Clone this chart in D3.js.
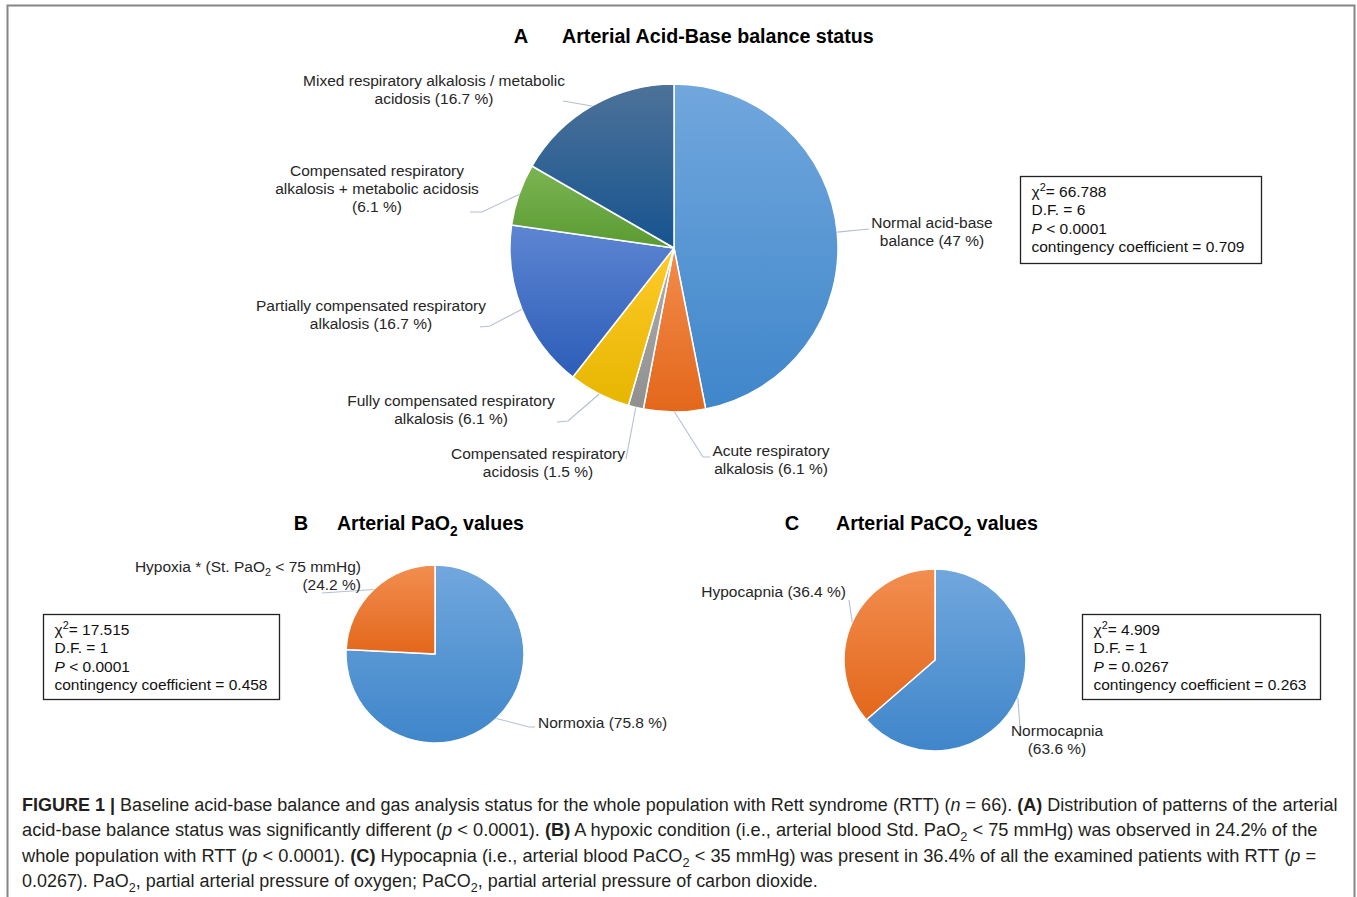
<!DOCTYPE html>
<html>
<head>
<meta charset="utf-8">
<script src="https://cdn.jsdelivr.net/npm/d3@7"></script>
<style>
  body { margin: 0; background: #fff; }
  svg text { white-space: pre; }
</style>
</head>
<body>
<svg id="fig" width="1357" height="897"></svg>
<script>
// ---- data ----
const acidBaseCategories = [
  "Normal acid-base balance",
  "Acute respiratory alkalosis",
  "Compensated respiratory acidosis",
  "Fully compensated respiratory alkalosis",
  "Partially compensated respiratory alkalosis",
  "Compensated respiratory alkalosis + metabolic acidosis",
  "Mixed respiratory alkalosis / metabolic acidosis"
];
const acidBaseValues = [47, 6.1, 1.5, 6.1, 16.7, 6.1, 16.7];

const pao2Categories = ["Normoxia", "Hypoxia * (St. PaO_{2} < 75 mmHg)"];
const pao2Values = [75.8, 24.2];

const paco2Categories = ["Normocapnia", "Hypocapnia"];
const paco2Values = [63.6, 36.4];

// chi-square, degrees of freedom, P, contingency coefficient
const statsA = ["66.788", "6", "< 0.0001", "0.709"];
const statsB = ["17.515", "1", "< 0.0001", "0.458"];
const statsC = ["4.909", "1", "= 0.0267", "0.263"];

const captionLines = [
  "**FIGURE 1 |** Baseline acid-base balance and gas analysis status for the whole population with Rett syndrome (RTT) (~n~ = 66). **(A)** Distribution of patterns of the arterial",
  "acid-base balance status was significantly different (~p~ < 0.0001). **(B)** A hypoxic condition (i.e., arterial blood Std. PaO_{2} < 75 mmHg) was observed in 24.2% of the",
  "whole population with RTT (~p~ < 0.0001). **(C)** Hypocapnia (i.e., arterial blood PaCO_{2} < 35 mmHg) was present in 36.4% of all the examined patients with RTT (~p~ =",
  "0.0267). PaO_{2}, partial arterial pressure of oxygen; PaCO_{2}, partial arterial pressure of carbon dioxide."
];

// ---- styles ----
const FONT = "'Liberation Sans', Arial, sans-serif";
const NARROW = "'Liberation Sans Narrow', 'Liberation Sans', Arial, sans-serif";
const LABEL_COLOR = "#262626";
const LEADER_COLOR = "#b4c0d0";
const LABEL_SIZE = 15.5;

// top / bottom gradient stops per slice
const acidBasePalette = [
  ["#71a7dd", "#3f86ca"],
  ["#f28c4c", "#e3671b"],
  ["#b0b0b0", "#8f8f8f"],
  ["#ffca2a", "#e6b600"],
  ["#5d85d2", "#2d5db8"],
  ["#7bb552", "#5b9a33"],
  ["#4d7299", "#16548f"]
];
const twoPalette = [
  ["#71a7dd", "#3f86ca"],
  ["#f28e50", "#e3671b"]
];

const svg = d3.select("#fig");
const defs = svg.append("defs");

// frame
svg.append("path")
  .attr("d", "M7.5,897 V5.5 H1354.5 V897")
  .attr("fill", "none")
  .attr("stroke", "#858585")
  .attr("stroke-width", 2);

// text with inline markup: _{sub} ^{sup} ~italic~ **bold**
function rich(sel, str, fs) {
  const parts = str.split(/(_\{[^}]*\}|\^\{[^}]*\}|~[^~]*~|\*\*[^*]*\*\*)/).filter(s => s.length);
  let shift = 0;
  parts.forEach(p => {
    const t = sel.append("tspan");
    let target = 0;
    if (p.startsWith("_{")) {
      t.text(p.slice(2, -1)).attr("font-size", fs * 0.7);
      target = fs * 0.28;
    } else if (p.startsWith("^{")) {
      t.text(p.slice(2, -1)).attr("font-size", fs * 0.7);
      target = -fs * 0.38;
    } else if (p.startsWith("~")) {
      t.text(p.slice(1, -1)).attr("font-style", "italic");
    } else if (p.startsWith("**")) {
      t.text(p.slice(2, -2)).attr("font-weight", "bold");
    } else {
      t.text(p);
    }
    const dy = target - shift;
    if (dy) t.attr("dy", dy);
    shift = target;
  });
}

// stretch / squeeze a text so that it spans [x0, x1]
function fitText(sel, x0, x1, y) {
  const w = sel.node().getComputedTextLength();
  const k = (x1 - x0) / w;
  sel.attr("x", 0).attr("y", 0)
     .attr("transform", `translate(${x0},${y}) scale(${k},1)`);
}

// ---- panel titles ----
function panelTitle(letter, letterX, title, x0, x1, y) {
  svg.append("text").attr("x", letterX).attr("y", y)
    .attr("font-family", FONT).attr("font-weight", "bold").attr("font-size", 20)
    .attr("text-anchor", "middle").attr("fill", "#000").text(letter);
  const t = svg.append("text")
    .attr("font-family", NARROW).attr("font-weight", "bold").attr("font-size", 21)
    .attr("fill", "#000");
  rich(t, title, 21);
  fitText(t, x0, x1, y);
}
panelTitle("A", 521, "Arterial Acid-Base balance status", 562, 874, 43);
panelTitle("B", 301, "Arterial PaO_{2} values", 337, 524, 530);
panelTitle("C", 792, "Arterial PaCO_{2} values", 836, 1038, 530);

// ---- pies ----
function drawPie(cfg) {
  const g = svg.append("g").attr("transform", `translate(${cfg.cx},${cfg.cy})`);
  const pie = d3.pie().sort(null).value(d => d.value);
  const arc = d3.arc().innerRadius(0).outerRadius(cfg.r);
  const data = cfg.values.map((v, i) => ({ value: v, name: cfg.categories[i], i }));
  const arcs = pie(data);

  arcs.forEach((a, i) => {
    const grad = defs.append("linearGradient")
      .attr("id", `${cfg.id}-g${i}`)
      .attr("x1", 0).attr("y1", 0).attr("x2", 0).attr("y2", 1);
    grad.append("stop").attr("offset", "0%").attr("stop-color", cfg.palette[i][0]);
    grad.append("stop").attr("offset", "100%").attr("stop-color", cfg.palette[i][1]);
  });

  g.selectAll("path.slice").data(arcs).join("path")
    .attr("class", "slice")
    .attr("d", arc)
    .attr("fill", (d, i) => `url(#${cfg.id}-g${i})`)
    .attr("stroke", "#fff")
    .attr("stroke-width", 1.5)
    .attr("stroke-linejoin", "round");

  // labels and leader lines
  arcs.forEach((a, i) => {
    const L = cfg.labels[i];
    const mid = (a.startAngle + a.endAngle) / 2;
    const ex = cfg.cx + cfg.r * Math.sin(mid);
    const ey = cfg.cy - cfg.r * Math.cos(mid);
    const pts = [[ex, ey]].concat(L.lead);
    svg.append("path")
      .attr("d", d3.line()(pts))
      .attr("fill", "none")
      .attr("stroke", LEADER_COLOR)
      .attr("stroke-width", 1.1);

    const words = `${a.data.name} (${a.data.value} %)`.split(" ");
    let k = 0;
    L.breaks.forEach((n, li) => {
      const line = words.slice(k, k + n).join(" ");
      k += n;
      const t = svg.append("text")
        .attr("x", L.x).attr("y", L.y + li * 18)
        .attr("font-family", FONT).attr("font-size", LABEL_SIZE)
        .attr("fill", LABEL_COLOR)
        .attr("text-anchor", L.anchor);
      rich(t, line, LABEL_SIZE);
    });
  });
}

drawPie({
  id: "acid", cx: 674, cy: 248, r: 164,
  values: acidBaseValues, categories: acidBaseCategories, palette: acidBasePalette,
  labels: [
    { x: 932, y: 228, anchor: "middle", breaks: [2, 3], lead: [[869, 229]] },
    { x: 771, y: 456, anchor: "middle", breaks: [2, 3], lead: [[703, 457], [710, 457]] },
    { x: 538, y: 459, anchor: "middle", breaks: [2, 3], lead: [[626, 459]] },
    { x: 451, y: 406, anchor: "middle", breaks: [3, 3], lead: [[568, 421], [557, 422]] },
    { x: 371, y: 311, anchor: "middle", breaks: [3, 3], lead: [[490, 326], [480, 327]] },
    { x: 377, y: 176, anchor: "middle", breaks: [2, 4, 2], lead: [[482, 212], [470, 212]] },
    { x: 434, y: 86, anchor: "middle", breaks: [5, 3], lead: [[563, 101]] }
  ]
});

drawPie({
  id: "pao2", cx: 435, cy: 654, r: 89,
  values: pao2Values, categories: pao2Categories, palette: twoPalette,
  labels: [
    { x: 538, y: 728, anchor: "start", breaks: [3], lead: [[529, 727], [535, 727]] },
    { x: 361, y: 572, anchor: "end", breaks: [7, 2], lead: [[322, 593]] }
  ]
});

drawPie({
  id: "paco2", cx: 935, cy: 660, r: 91,
  values: paco2Values, categories: paco2Categories, palette: twoPalette,
  labels: [
    { x: 1057, y: 736, anchor: "middle", breaks: [1, 2], lead: [[1020, 727]] },
    { x: 846, y: 597, anchor: "end", breaks: [3], lead: [[849, 600]] }
  ]
});

// ---- statistics boxes ----
function statsBox(vals, x, y, w, h) {
  svg.append("rect").attr("x", x).attr("y", y).attr("width", w).attr("height", h)
    .attr("fill", "#fff").attr("stroke", "#222").attr("stroke-width", 1.3);
  const lines = [
    `χ^{2}= ${vals[0]}`,
    `D.F. = ${vals[1]}`,
    `~P~ ${vals[2]}`,
    `contingency coefficient = ${vals[3]}`
  ];
  lines.forEach((s, i) => {
    const t = svg.append("text")
      .attr("x", x + 11).attr("y", y + 20 + i * 18.6)
      .attr("font-family", FONT).attr("font-size", LABEL_SIZE).attr("fill", "#111");
    rich(t, s, LABEL_SIZE);
  });
}
statsBox(statsA, 1020.5, 176.5, 241, 87);
statsBox(statsB, 43.5, 614.5, 236, 85);
statsBox(statsC, 1082.5, 614.5, 238, 85);

// ---- caption ----
const captionSpans = [[22, 1338], [22, 1318], [22, 1317], [22, 818]];
captionLines.forEach((s, i) => {
  const t = svg.append("text")
    .attr("font-family", NARROW).attr("font-size", 18).attr("fill", "#231f20");
  rich(t, s, 18);
  fitText(t, captionSpans[i][0], captionSpans[i][1], 811 + i * 25.4);
});
</script>
</body>
</html>
